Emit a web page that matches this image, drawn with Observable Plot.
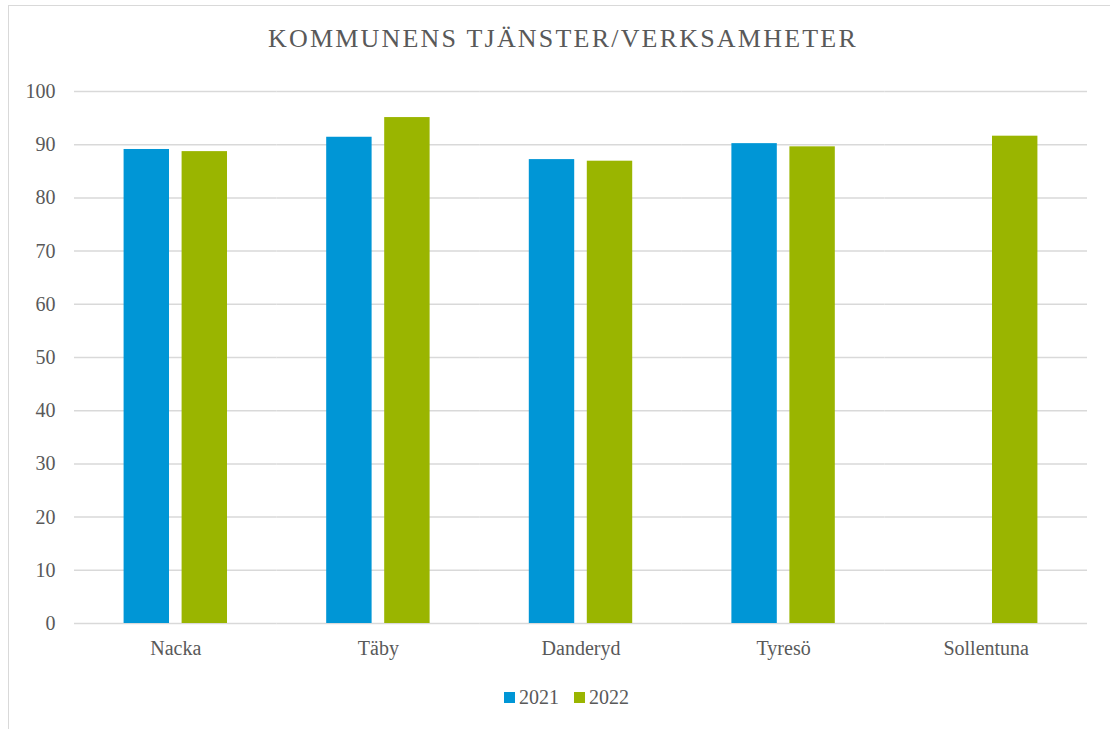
<!DOCTYPE html>
<html>
<head>
<meta charset="utf-8">
<script src="https://cdn.jsdelivr.net/npm/d3@7"></script>
<script src="https://cdn.jsdelivr.net/npm/@observablehq/plot@0.6"></script>
<style>
  body { margin: 0; background: #fff; }
  #wrap { position: relative; width: 1110px; height: 729px; overflow: hidden;
          font-family: "Liberation Serif", serif; color: #595959; }
  #frame { position: absolute; left: 8px; top: 5px; width: 1200px; height: 800px;
           border: 1px solid #d9d9d9; box-sizing: border-box; }
  #title { position: absolute; left: 268px; top: 26px; font-size: 26px; line-height: 26px;
           letter-spacing: 2.2px; white-space: nowrap; }
  #chart { position: absolute; left: 0; top: 60px; }
  #legend { position: absolute; left: 504px; top: 687px; display: flex; align-items: center;
            font-size: 20px; line-height: 20px; }
  .item { display: flex; align-items: center; margin-right: 15px; }
  .sw { width: 11px; height: 11px; margin-right: 4px; margin-top: 1px; }
</style>
</head>
<body>
<div id="wrap">
  <div id="frame"></div>
  <div id="title">KOMMUNENS TJÄNSTER/VERKSAMHETER</div>
  <div id="chart"></div>
  <div id="legend"></div>
</div>
<script>
const categories = ["Nacka", "Täby", "Danderyd", "Tyresö", "Sollentuna"];
const years = ["2021", "2022"];
const values2021 = [89.1, 91.4, 87.2, 90.2, null];
const values2022 = [88.7, 95.1, 86.9, 89.6, 91.6];
const colors = ["#0096d6", "#9ab500"];
const yTicks = [0, 10, 20, 30, 40, 50, 60, 70, 80, 90, 100];

const data = [];
categories.forEach((c, i) => {
  [values2021, values2022].forEach((vals, j) => {
    if (vals[i] != null) data.push({category: c, year: years[j], value: vals[i]});
  });
});

const chart = Plot.plot({
  width: 1110,
  height: 620,
  marginTop: 31,
  marginBottom: 57,
  marginLeft: 74,
  marginRight: 23,
  style: {fontFamily: "'Liberation Serif', serif", fontSize: "20px", color: "#595959", background: "transparent", overflow: "visible"},
  fx: {domain: categories, padding: 0, label: null, round: false},
  x: {domain: years, paddingInner: 0.217, paddingOuter: 0.855, round: false, axis: null},
  y: {domain: [0, 100], label: null},
  color: {domain: years, range: colors},
  marks: [
    Plot.ruleY(yTicks, {stroke: "#d9d9d9", strokeWidth: 1.5}),
    Plot.barY(data, {fx: "category", x: "year", y: "value", fill: "year"}),
    Plot.axisY(yTicks, {tickSize: 0, tickPadding: 19, label: null, fontSize: 20}),
    Plot.axisFx({anchor: "bottom", tickSize: 0, tickPadding: 17, label: null, fontSize: 20})
  ]
});
document.getElementById("chart").appendChild(chart);

const legend = document.getElementById("legend");
years.forEach((y, i) => {
  const item = document.createElement("div");
  item.className = "item";
  const sw = document.createElement("div");
  sw.className = "sw";
  sw.style.background = colors[i];
  const t = document.createElement("span");
  t.textContent = y;
  item.appendChild(sw);
  item.appendChild(t);
  legend.appendChild(item);
});
</script>
</body>
</html>
